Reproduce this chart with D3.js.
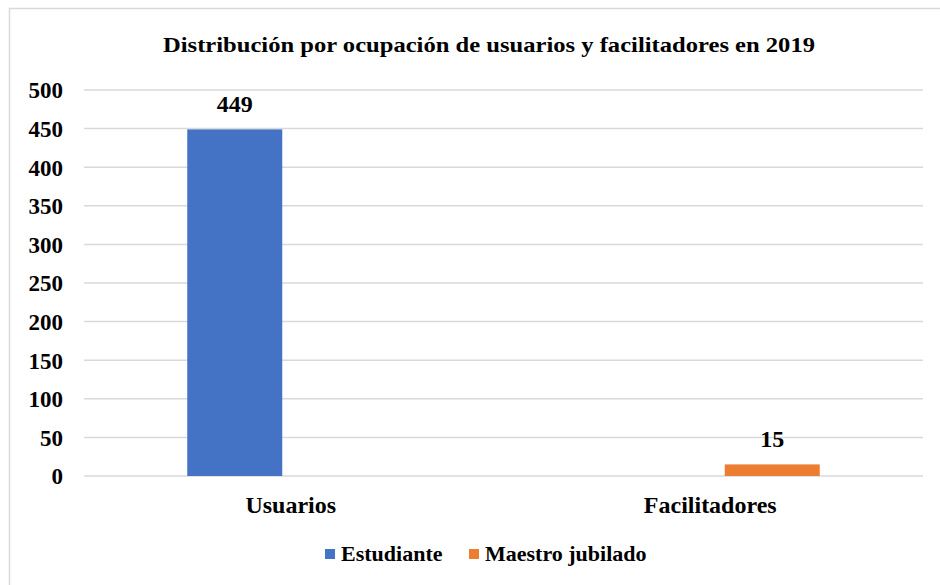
<!DOCTYPE html>
<html>
<head>
<meta charset="utf-8">
<script src="https://cdn.jsdelivr.net/npm/d3@7"></script>
<style>
  body { margin: 0; background: #fff; }
  text { font-family: "Liberation Serif", "Times New Roman", serif; font-weight: bold; fill: #000; }
</style>
</head>
<body>
<svg id="chart" width="940" height="585"></svg>
<script>
// data
var categories = ["Usuarios", "Facilitadores"];
var series = ["Estudiante", "Maestro jubilado"];
var estudiante = [449, 0];
var maestro = [0, 15];
var yTicks = [0, 50, 100, 150, 200, 250, 300, 350, 400, 450, 500];
var colors = ["#4472c4", "#ed7d31"];

var svg = d3.select("#chart");

// chart frame
svg.append("rect")
    .attr("x", 9.5).attr("y", 8.5)
    .attr("width", 940).attr("height", 600)
    .attr("fill", "#fff")
    .attr("stroke", "#d9d9d9")
    .attr("stroke-width", 1.5);

svg.append("text")
    .attr("x", 489).attr("y", 52)
    .attr("text-anchor", "middle")
    .attr("textLength", 652)
    .attr("lengthAdjust", "spacingAndGlyphs")
    .style("font-size", "22px")
    .text("Distribución por ocupación de usuarios y facilitadores en 2019");

var x0 = d3.scaleBand().domain(categories).range([84, 923]);
var x1 = d3.scaleBand().domain(series).range([0, x0.bandwidth()])
    .paddingInner(0.195).paddingOuter(0.875);
var y = d3.scaleLinear().domain([0, 500]).range([476, 90]);

// gridlines
svg.append("g")
    .selectAll("line")
    .data(yTicks)
    .enter().append("line")
    .attr("x1", 84).attr("x2", 923)
    .attr("y1", function(d) { return y(d); })
    .attr("y2", function(d) { return y(d); })
    .attr("stroke", "#d9d9d9")
    .attr("stroke-width", 1.5);

var yAxis = d3.axisLeft(y).tickValues(yTicks).tickSize(0).tickPadding(0);
var yGroup = svg.append("g")
    .attr("transform", "translate(63,0)")
    .call(yAxis);
yGroup.select(".domain").remove();
yGroup.selectAll("text")
    .attr("dy", "0.34em")
    .style("font-size", "23px")
    .style("font-family", "'Liberation Serif', serif")
    .style("font-weight", "bold")
    .attr("fill", "#000");

var xAxis = d3.axisBottom(x0).tickSize(0).tickPadding(0);
var xGroup = svg.append("g")
    .attr("transform", "translate(-3,494)")
    .call(xAxis);
xGroup.select(".domain").remove();
xGroup.selectAll("text")
    .attr("dy", "0.8em")
    .style("font-size", "24px")
    .style("font-family", "'Liberation Serif', serif")
    .style("font-weight", "bold")
    .attr("fill", "#000");

var rows = categories.map(function(c, i) {
    return { cat: c, values: [
        { key: series[0], value: estudiante[i], color: colors[0] },
        { key: series[1], value: maestro[i], color: colors[1] }
    ] };
});

var groups = svg.selectAll(".grp")
    .data(rows)
    .enter().append("g")
    .attr("class", "grp")
    .attr("transform", function(d) { return "translate(" + x0(d.cat) + ",0)"; });

var bars = groups.selectAll(".bar")
    .data(function(d) { return d.values.filter(function(v) { return v.value > 0; }); })
    .enter();

bars.append("rect")
    .attr("class", "bar")
    .attr("x", function(d) { return x1(d.key); })
    .attr("width", x1.bandwidth())
    .attr("y", function(d) { return y(d.value); })
    .attr("height", function(d) { return y(0) - y(d.value); })
    .attr("fill", function(d) { return d.color; });

bars.append("text")
    .attr("x", function(d) { return x1(d.key) + x1.bandwidth() / 2; })
    .attr("y", function(d) { return y(d.value) - 17; })
    .attr("text-anchor", "middle")
    .style("font-size", "24px")
    .text(function(d) { return d.value; });

// legend
var legendX = [325, 469];
var legend = svg.selectAll(".legend")
    .data(series)
    .enter().append("g")
    .attr("class", "legend")
    .attr("transform", function(d, i) { return "translate(" + legendX[i] + ",549)"; });
legend.append("rect")
    .attr("width", 10).attr("height", 10)
    .attr("fill", function(d, i) { return colors[i]; });
legend.append("text")
    .attr("x", 16).attr("y", 12)
    .style("font-size", "22px")
    .text(function(d) { return d; });
</script>
</body>
</html>
